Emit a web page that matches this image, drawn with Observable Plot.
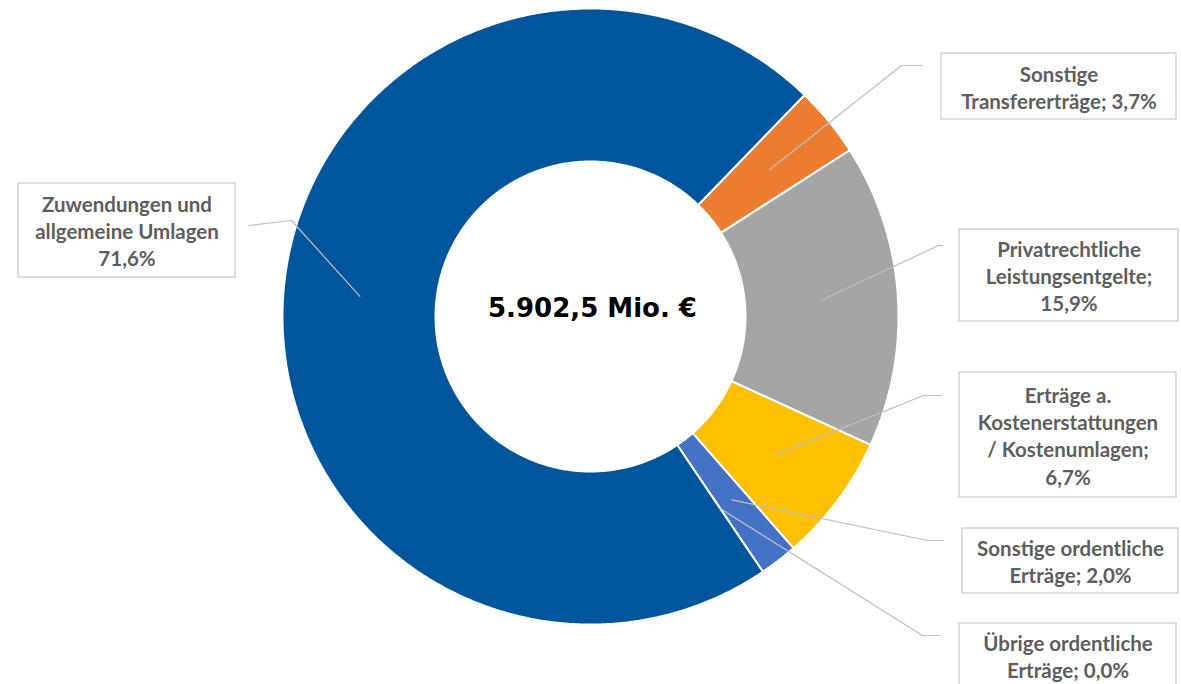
<!DOCTYPE html>
<html>
<head>
<meta charset="utf-8">
<script src="https://cdn.jsdelivr.net/npm/d3@7"></script>
<script src="https://cdn.jsdelivr.net/npm/@observablehq/plot@0.6"></script>
<style>
  html, body { margin: 0; padding: 0; background: #fff; }
  #chart svg { display: block; }
</style>
</head>
<body>
<div id="chart"></div>
<script>
// ---- Data ----
const categories = [
  "Sonstige Transfererträge",
  "Privatrechtliche Leistungsentgelte",
  "Erträge a. Kostenerstattungen / Kostenumlagen",
  "Sonstige ordentliche Erträge",
  "Übrige ordentliche Erträge",
  "Zuwendungen und allgemeine Umlagen"
];
const shares = [3.7, 15.9, 6.7, 2.0, 0.0, 71.6];
const labelTexts = [
  "Sonstige\nTransfererträge; 3,7%",
  "Privatrechtliche\nLeistungsentgelte;\n15,9%",
  "Erträge a.\nKostenerstattungen\n/ Kostenumlagen;\n6,7%",
  "Sonstige ordentliche\nErträge; 2,0%",
  "Übrige ordentliche\nErträge; 0,0%",
  "Zuwendungen und\nallgemeine Umlagen\n71,6%"
];
const totalLabel = "5.902,5 Mio. €";

// ---- Styles / layout ----
const colors = ["#ED7D31", "#A5A5A5", "#FFC000", "#4472C4", "#7F7F7F", "#00569D"];
const W = 1181, H = 684;
const CX = 590, CY = 316;          // ring centre in page pixels
const R = 308, r = 155;            // outer / inner radius
const startDeg = 44;               // angle of the first slice (clockwise from 12 o'clock)
// label boxes [x1, y1, x2, y2] in page pixels
const boxes = [
  [941, 53, 1176, 119],
  [959, 229, 1178, 321],
  [959, 372, 1176, 497],
  [962, 528, 1178, 593],
  [959, 623, 1176, 700],
  [18, 183, 235, 277]
];
// leader line elbow and end points in page pixels
const elbows = [[901, 65], [938, 245], [923, 395], [927, 540], [922, 635], [291, 220]];
const ends   = [[921, 65], [942, 245], [941, 395], [943, 540], [939, 635], [248, 225]];

// ---- Geometry from data ----
const total = d3.sum(shares);
const toRad = d => d * Math.PI / 180;
const px = (ang, rad) => rad * Math.sin(ang);
const py = (ang, rad) => -rad * Math.cos(ang);

let acc = toRad(startDeg);
const slices = shares.map((v, i) => {
  const a0 = acc, a1 = acc + v / total * 2 * Math.PI;
  acc = a1;
  return {cat: categories[i], a0, a1, mid: (a0 + a1) / 2};
});

const slicePts = [];
for (const s of slices) {
  const n = Math.max(2, Math.ceil((s.a1 - s.a0) / toRad(0.5)));
  const pts = [];
  for (let k = 0; k <= n; k++) {
    const a = s.a0 + (s.a1 - s.a0) * k / n;
    pts.push({cat: s.cat, x: px(a, R), y: py(a, R)});
  }
  for (let k = n; k >= 0; k--) {
    const a = s.a0 + (s.a1 - s.a0) * k / n;
    pts.push({cat: s.cat, x: px(a, r), y: py(a, r)});
  }
  pts.push({...pts[0]});
  slicePts.push(...pts);
}

const rm = (R + r) / 2;
const leaderPts = [];
slices.forEach((s, i) => {
  leaderPts.push({cat: s.cat, x: px(s.mid, rm), y: py(s.mid, rm)});
  leaderPts.push({cat: s.cat, x: elbows[i][0] - CX, y: elbows[i][1] - CY});
  leaderPts.push({cat: s.cat, x: ends[i][0] - CX, y: ends[i][1] - CY});
});

const boxData = boxes.map((b, i) => ({
  cat: categories[i], text: labelTexts[i],
  x1: b[0] - CX, y1: b[1] - CY, x2: b[2] - CX, y2: Math.min(b[3], H + 10) - CY,
  cx: (b[0] + b[2]) / 2 - CX, cy: (b[1] + b[3]) / 2 - CY
}));
// bottom box is clipped by the page edge; keep its text where it sits
boxData[4].cy = 655 - CY;

const chart = Plot.plot({
  width: W, height: H,
  margin: 0,
  x: {domain: [-CX, W - CX], range: [0, W], axis: null},
  y: {domain: [-CY, H - CY], range: [0, H], axis: null},
  color: {domain: categories, range: colors},
  style: {background: "white"},
  marks: [
    Plot.line(slicePts, {x: "x", y: "y", z: "cat", fill: "cat", stroke: "white", strokeWidth: 2, strokeLinejoin: "miter"}),
    Plot.line(leaderPts, {x: "x", y: "y", z: "cat", stroke: "#BFBFBF", strokeWidth: 1.2}),
    Plot.rect(boxData, {x1: "x1", x2: "x2", y1: "y1", y2: "y2", fill: "white", stroke: "#C8C8C8", strokeWidth: 1.2}),
    Plot.text(boxData, {x: "cx", y: "cy", text: "text", fontFamily: "Lato", fontWeight: "bold", fontSize: 20.5, lineHeight: 1.33, fill: "#5E5E5E"}),
    Plot.text([totalLabel], {x: () => 2, y: () => -8, text: d => d, fontFamily: "DejaVu Sans", fontWeight: "bold", fontSize: 26, fill: "#000"})
  ]
});
document.getElementById("chart").append(chart);
</script>
</body>
</html>
